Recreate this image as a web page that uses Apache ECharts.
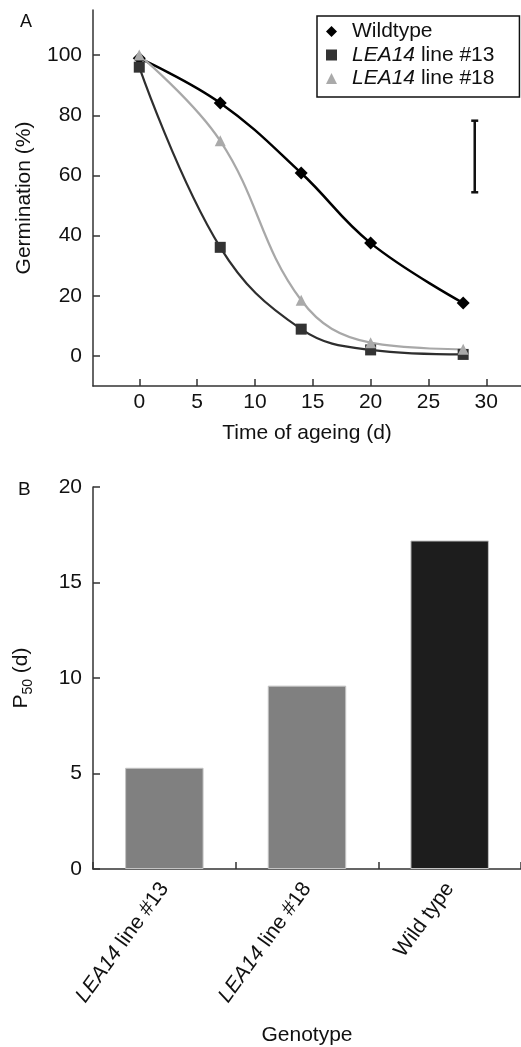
<!DOCTYPE html>
<html><head><meta charset="utf-8">
<script src="https://cdn.jsdelivr.net/npm/echarts@6/dist/echarts.min.js"></script>
<style>html,body{margin:0;padding:0;background:#fff}#c{width:521px;height:1047px}</style>
</head><body><div id="c"></div>
<script>
// ---- data ----
const days = [0, 7, 14, 20, 28];
const wildtype = [99, 84.1, 60.8, 37.5, 17.6];
const line13 = [96, 36.1, 8.9, 2.0, 0.5];
const line18 = [100, 71.5, 18.5, 4.4, 2.2];
const errBar = [29, 54.4, 78.2];            // x, low, high
const xTicks = [0, 5, 10, 15, 20, 25, 30];
const yTicks = [0, 20, 40, 60, 80, 100];
const genotypes = ['LEA14 line #13', 'LEA14 line #18', 'Wild type'];
const p50 = [5.3, 9.6, 17.2];
const seriesNames = ['Wildtype', 'LEA14 line #13', 'LEA14 line #18'];

// ---- styles ----
const FONT = 'Liberation Sans, Arial, Helvetica, sans-serif';
const TXT = '#111';
const AX = '#333';
const FS = 21;
const barColors = ['#808080', '#808080', '#1d1d1d'];

function richName(v) {
  if (v.indexOf('LEA14') === 0) return '{i|LEA14}{n|' + v.slice(5) + '}';
  return '{n|' + v + '}';
}
const pts = arr => days.map((d, i) => [d, arr[i]]);

const chart = echarts.init(document.getElementById('c'), null, {renderer: 'canvas'});
const axisLineStyle = {color: AX, width: 1.5};
chart.setOption({
  animation: false,
  backgroundColor: '#fff',
  textStyle: {fontFamily: FONT},
  graphic: [
    {type: 'text', left: 20, top: 13, style: {text: 'A', font: '18px ' + FONT, fill: TXT}},
    {type: 'text', left: 18, top: 480, style: {text: 'B', font: '19px ' + FONT, fill: TXT}}
  ],
  grid: [
    {left: 93, top: 10, width: 430, height: 376},
    {left: 93, top: 487, width: 430, height: 383}
  ],
  legend: {
    orient: 'vertical', left: 317, top: 16,
    padding: [5, 25, 8, 9], itemGap: 2.5, itemWidth: 11, itemHeight: 11,
    borderColor: '#111', borderWidth: 1.5,
    textStyle: {fontSize: FS, color: TXT, fontFamily: FONT, padding: [0, 0, 0, 10],
      rich: {i: {fontStyle: 'italic', fontSize: FS, color: TXT, fontFamily: FONT},
             n: {fontSize: FS, color: TXT, fontFamily: FONT}}},
    formatter: richName,
    data: [
      {name: seriesNames[0], icon: 'diamond'},
      {name: seriesNames[1], icon: 'rect'},
      {name: seriesNames[2], icon: 'triangle'}
    ]
  },
  xAxis: [
    {gridIndex: 0, type: 'value', min: -4, max: 33,
     axisLine: {show: true, onZero: false, lineStyle: axisLineStyle},
     axisTick: {show: true, inside: true, length: 7, customValues: xTicks, lineStyle: axisLineStyle},
     axisLabel: {customValues: xTicks, fontSize: FS, color: TXT, margin: 6},
     splitLine: {show: false},
     name: 'Time of ageing (d)', nameLocation: 'middle', nameGap: 37,
     nameTextStyle: {fontSize: FS, color: TXT}},
    {gridIndex: 1, type: 'category', data: genotypes,
     axisLine: {show: true, onZero: false, lineStyle: axisLineStyle},
     axisTick: {show: true, inside: true, length: 7, lineStyle: axisLineStyle},
     axisLabel: {rotate: 54, margin: 16, interval: 0, formatter: richName,
       rich: {i: {fontStyle: 'italic', fontSize: FS, color: TXT, fontFamily: FONT},
              n: {fontSize: FS, color: TXT, fontFamily: FONT}}},
     name: 'Genotype', nameLocation: 'middle', nameGap: 156,
     nameTextStyle: {fontSize: FS, color: TXT}}
  ],
  yAxis: [
    {gridIndex: 0, type: 'value', min: -10, max: 115,
     axisLine: {show: true, onZero: false, lineStyle: axisLineStyle},
     axisTick: {show: true, inside: true, length: 7, customValues: yTicks, lineStyle: axisLineStyle},
     axisLabel: {customValues: yTicks, fontSize: FS, color: TXT, margin: 11},
     splitLine: {show: false},
     name: 'Germination (%)', nameLocation: 'middle', nameGap: 58,
     nameTextStyle: {fontSize: FS, color: TXT}},
    {gridIndex: 1, type: 'value', min: 0, max: 20, interval: 5,
     axisLine: {show: true, onZero: false, lineStyle: axisLineStyle},
     axisTick: {show: true, inside: true, length: 7, lineStyle: axisLineStyle},
     axisLabel: {fontSize: FS, color: TXT, margin: 11},
     splitLine: {show: false},
     name: '{p|P}{s|50}{p| (d)}', nameLocation: 'middle', nameGap: 58,
     nameTextStyle: {fontSize: FS, color: TXT,
       rich: {p: {fontSize: FS, color: TXT, lineHeight: 27, fontFamily: FONT},
              s: {fontSize: 14, color: TXT, lineHeight: 14, verticalAlign: 'bottom', fontFamily: FONT}}}}
  ],
  series: [
    {name: seriesNames[0], type: 'line', xAxisIndex: 0, yAxisIndex: 0, data: pts(wildtype),
     smooth: 0.4, symbol: 'diamond', symbolSize: 13,
     lineStyle: {color: '#000', width: 2.5}, itemStyle: {color: '#000'}},
    {name: seriesNames[1], type: 'line', xAxisIndex: 0, yAxisIndex: 0, data: pts(line13),
     smooth: 0.4, symbol: 'rect', symbolSize: 11,
     lineStyle: {color: '#2e2e2e', width: 2.2}, itemStyle: {color: '#333'}},
    {name: seriesNames[2], type: 'line', xAxisIndex: 0, yAxisIndex: 0, data: pts(line18),
     smooth: 0.4, symbol: 'triangle', symbolSize: 11,
     lineStyle: {color: '#a8a8a8', width: 2.2}, itemStyle: {color: '#aaa'}},
    {type: 'custom', xAxisIndex: 0, yAxisIndex: 0, data: [errBar],
     encode: {x: 0, y: [1, 2]},
     renderItem: function (params, api) {
       const x = api.value(0);
       const a = api.coord([x, api.value(1)]);
       const b = api.coord([x, api.value(2)]);
       const w = 3.5;
       const st = {stroke: '#111', lineWidth: 2.5};
       return {type: 'group', children: [
         {type: 'line', shape: {x1: a[0], y1: a[1], x2: b[0], y2: b[1]}, style: st},
         {type: 'line', shape: {x1: a[0] - w, y1: a[1], x2: a[0] + w, y2: a[1]}, style: st},
         {type: 'line', shape: {x1: b[0] - w, y1: b[1], x2: b[0] + w, y2: b[1]}, style: st}
       ]};
     }},
    {type: 'bar', xAxisIndex: 1, yAxisIndex: 1, data: p50, barWidth: '55%',
     itemStyle: {color: p => barColors[p.dataIndex], borderColor: '#c4c4c4', borderWidth: 1}}
  ]
});
</script></body></html>
